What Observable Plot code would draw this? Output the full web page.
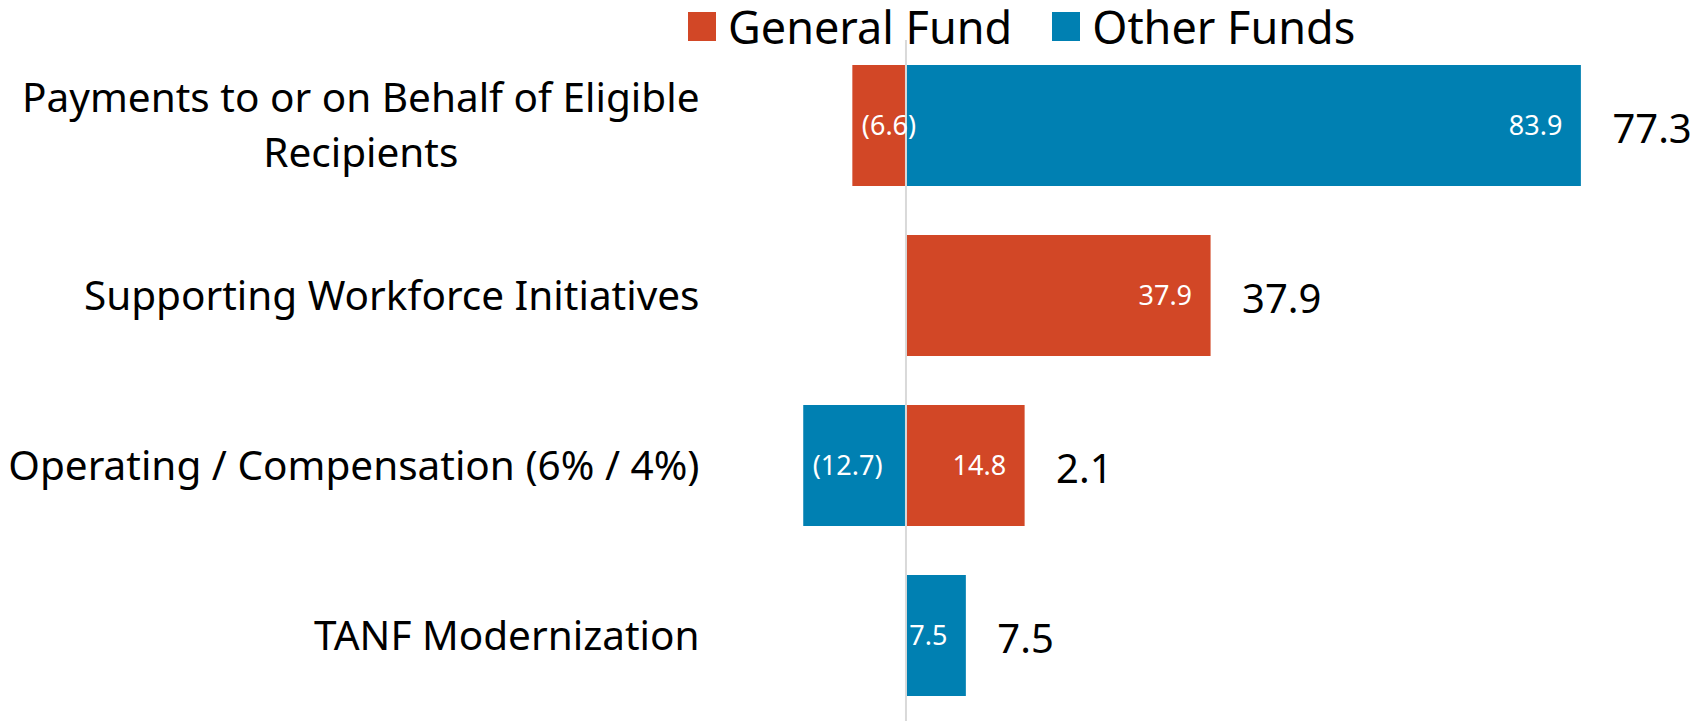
<!DOCTYPE html>
<html><head><meta charset="utf-8">
<script src="https://cdn.jsdelivr.net/npm/d3@7"></script>
<script src="https://cdn.jsdelivr.net/npm/@observablehq/plot@0.6"></script>
<style>
body{margin:0;background:#fff;}
#wrap{position:relative;width:1696px;height:721px;font-family:"Noto Sans",sans-serif;overflow:hidden;}
#legend{position:absolute;top:1px;left:688px;display:flex;align-items:center;height:50px;font-size:45px;color:#000;line-height:1;}
#legend .item{display:flex;align-items:center;margin-right:40px;}
#legend .sw{width:28px;height:29px;display:inline-block;margin-right:12px;}
</style></head><body>
<div id="wrap"><div id="chart"></div><div id="legend"></div></div>
<script>
const categories = [
  "Payments to or on Behalf of Eligible Recipients",
  "Supporting Workforce Initiatives",
  "Operating / Compensation (6% / 4%)",
  "TANF Modernization"
];
const categoryLabels = [
  "Payments to or on Behalf of Eligible\nRecipients",
  "Supporting Workforce Initiatives",
  "Operating / Compensation (6% / 4%)",
  "TANF Modernization"
];
const generalFund = [-6.6, 37.9, 14.8, 0];
const otherFunds = [83.9, 0, -12.7, 7.5];
const seriesNames = ["General Fund", "Other Funds"];
const seriesColors = ["#D24726", "#0080B2"];

const rows = [];
categories.forEach((c, i) => {
  [generalFund[i], otherFunds[i]].forEach((v, j) => {
    if (v !== 0) rows.push({category: c, series: seriesNames[j], value: v});
  });
});
const totals = categories.map((c, i) => ({
  category: c,
  total: generalFund[i] + otherFunds[i],
  end: d3.sum([generalFund[i], otherFunds[i]].filter(v => v > 0))
}));
const fmt = v => v < 0 ? `(${(-v).toFixed(1)})` : v.toFixed(1);

const chart = Plot.plot({
  width: 1696,
  height: 721,
  marginLeft: 720,
  marginRight: 0,
  marginTop: 40,
  marginBottom: 0,
  style: {fontFamily: '"Noto Sans", sans-serif', background: "#fff", overflow: "visible"},
  x: {domain: [-23.04, 98.2], axis: null},
  y: {domain: categories, paddingInner: 0.29, paddingOuter: 0.14, label: null},
  color: {domain: seriesNames, range: seriesColors},
  marks: [
    Plot.barX(rows, {x: "value", y: "category", fill: "series", order: seriesNames}),
    Plot.ruleX([0], {stroke: "#d9d9d9", strokeWidth: 2}),
    Plot.text(rows.filter(d => d.value > 0), {x: "value", y: "category", text: d => fmt(d.value), textAnchor: "end", dx: -19, fill: "white", fontSize: 27}),
    Plot.text(rows.filter(d => d.value < 0), {x: "value", y: "category", text: d => fmt(d.value), textAnchor: "start", dx: 9, fill: "white", fontSize: 27}),
    Plot.text(totals, {x: "end", y: "category", text: d => fmt(d.total), textAnchor: "start", dx: 31, dy: 4, fill: "black", fontSize: 40}),
    Plot.axisY({tickSize: 0, tickPadding: 21, fontSize: 40.5, lineHeight: 1.36, dy: -4, fill: "black",
      tickFormat: d => categoryLabels[categories.indexOf(d)]})
  ]
});
document.getElementById("chart").appendChild(chart);

// center multi-line tick labels relative to their widest line
chart.querySelectorAll('g[aria-label="y-axis tick label"] text').forEach(t => {
  const spans = t.querySelectorAll("tspan");
  if (spans.length > 1) {
    const w = Math.max(...Array.from(spans, s => s.getComputedTextLength()));
    t.setAttribute("text-anchor", "middle");
    spans.forEach(s => s.setAttribute("x", -w / 2));
  }
});

const legend = document.getElementById("legend");
seriesNames.forEach((n, i) => {
  const item = document.createElement("div");
  item.className = "item";
  const sw = document.createElement("span");
  sw.className = "sw";
  sw.style.background = seriesColors[i];
  item.appendChild(sw);
  item.appendChild(document.createTextNode(n));
  legend.appendChild(item);
});
</script>
</body></html>
